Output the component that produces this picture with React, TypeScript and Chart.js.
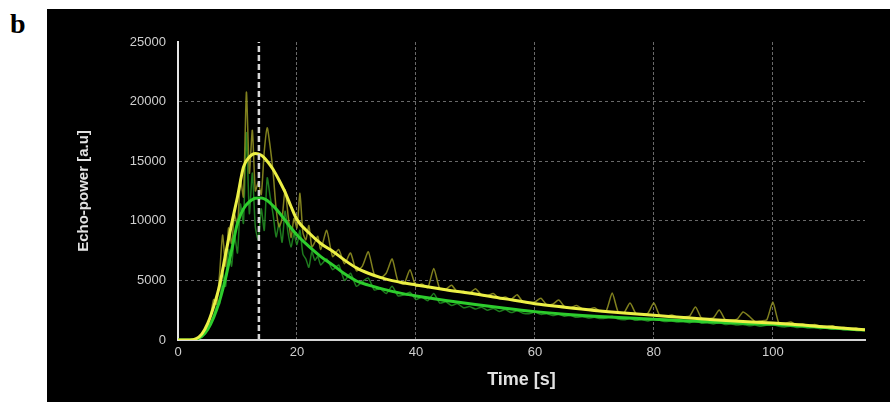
import React, { useEffect, useRef } from 'react';
import { Chart, registerables } from 'chart.js';

Chart.register(...registerables);

// ---- data ----
const rawTime = [
  0, 1, 2, 3, 4, 5,
  5.5, 6, 6.5, 7, 7.5, 8, 8.5, 9, 9.5, 10, 10.5, 11, 11.5, 12, 12.5, 13, 13.5, 14, 14.5, 15,
  15.5, 16, 16.5, 17, 17.5, 18, 18.5, 19, 19.5, 20, 20.5, 21, 21.5, 22, 22.5, 23, 23.5, 24,
  25, 26, 27, 28, 29, 30, 31, 32, 33, 34, 35, 36, 37, 38, 39, 40, 41, 42, 43, 44, 45,
  46, 47, 48, 49, 50, 51, 52, 53, 54, 55, 56, 57, 58, 59, 60, 61, 62, 63, 64, 65,
  66, 67, 68, 69, 70, 71, 72, 73, 74, 75, 76, 77, 78, 79, 80, 81, 82, 83, 84, 85,
  86, 87, 88, 89, 90, 91, 92, 93, 94, 95, 96, 97, 98, 99, 100, 101, 102, 103, 104, 105,
  106, 107, 108, 109, 110, 111, 112, 113, 114, 115,
];

const rawYellow = [
  0, 0, 0, 80, 450, 1300,
  2100, 3400, 3000, 5600, 8800, 6200, 9400, 8100, 10500, 9600, 13500, 12000, 20800, 14000, 17600, 12500, 13200, 12200, 15800, 17800,
  16200, 14000, 11000, 9500, 10200, 12600, 10500, 8600, 10200, 9400, 12300, 9000, 8400, 9600, 7800, 8200, 8700, 7600,
  9200, 7000, 7600, 6400, 7300, 5800, 6200, 7400, 5500, 5200, 5600, 6800, 4900, 4700, 5900, 4500, 4700, 4400, 6000, 4300, 4250,
  4600, 4000, 4100, 3900, 4300, 3800, 3700, 3900, 3500, 3600, 3400, 3800, 3200, 3150, 3200, 3500, 2950, 3000, 3350, 2800,
  2700, 2900, 2600, 2550, 2700, 2400, 2450, 3940, 2350, 2300, 3100, 2200, 2150, 2250, 3100, 2050, 2000, 2100, 1900, 1950,
  2000, 2770, 1850, 1800, 1850, 2520, 1700, 1650, 1750, 2350, 2000, 1550, 1600, 1700, 3190, 1450, 1400, 1500, 1300, 1350,
  1200, 1300, 1150, 1100, 1200, 1000, 1050, 950, 1000, 850,
];

const rawGreen = [
  0, 0, 0, 40, 250, 800,
  1300, 2000, 2800, 3000, 5700, 4500, 7600, 6200, 8800, 7300, 11400, 9800, 17400, 10600, 14000, 9500, 8400, 11000, 9200, 13600,
  12000, 10500, 8650, 9800, 8200, 10800, 9000, 7800, 8900, 8000, 9200, 7200, 6800, 6100, 7400, 6700, 7000, 6300,
  6800, 5900, 6300, 5000, 5600, 4500, 4900, 5200, 4200, 4300, 3900, 4500, 3700, 3800, 4000, 3400, 3600, 3300, 3900, 3100, 3200,
  2900, 3050, 2700, 2800, 2600, 2750, 2500, 2650, 2400, 2550, 2300, 2450, 2250, 2200, 2350, 2150, 2200, 2050, 2150, 2000,
  2050, 1900, 1950, 1850, 1900, 1800, 1850, 2000, 1750, 1700, 1800, 1650, 1700, 1600, 1750, 1650, 1550, 1600, 1500, 1550,
  1450, 1600, 1400, 1450, 1350, 1450, 1300, 1350, 1250, 1300, 1200, 1250, 1150, 1250, 1300, 1150, 1100, 1150, 1050, 1100,
  1000, 1050, 950, 1000, 900, 950, 850, 900, 800, 820,
];

const fitTime = [
  0, 1, 2, 3, 4, 5, 6, 7, 8, 9, 10, 11, 12, 13, 14, 15, 16, 17, 18, 19, 20,
  22, 24, 26, 28, 30, 32, 34, 36, 38, 40,
  45, 50, 55, 60, 65, 70, 75, 80, 85, 90, 95, 100, 105, 110, 115.5,
];

const fitYellow = [
  0, 0, 0, 100, 500, 1400, 2800, 4600, 7200, 9700, 12000, 14500, 15350, 15650, 15500, 15000, 14300, 13400, 12400, 11200, 10100,
  9000, 8100, 7450, 6700, 6050, 5600, 5250, 4980, 4780, 4620,
  4220, 3860, 3450, 3050, 2750, 2480, 2260, 2080, 1880, 1700, 1550, 1420, 1250, 1060, 860,
];

const fitGreen = [
  0, 0, 0, 60, 300, 900, 1900, 3300, 5200, 7500, 9800, 11000, 11600, 11900, 11920, 11700, 11250, 10700, 10050, 9400, 8800,
  7850, 7000, 6300, 5550, 4950, 4600, 4330, 4080, 3870, 3700,
  3320, 2980, 2660, 2380, 2160, 1990, 1860, 1750, 1620, 1500, 1400, 1320, 1180, 1000, 830,
];

const markerTime = 13.6;
const xTickValues = [0, 20, 40, 60, 80, 100];
const yTickValues = [0, 5000, 10000, 15000, 20000, 25000];
const xMin = 0;
const xMax = 115.5;
const yMin = 0;
const yMax = 25000;
const xTitle = 'Time [s]';
const yTitle = 'Echo-power [a.u]';
const panelLabel = 'b';

const FONT = '"Liberation Sans", Arial, Helvetica, sans-serif';

export default function App() {
  const ref = useRef<HTMLCanvasElement>(null);

  useEffect(() => {
    const canvas = ref.current;
    if (!canvas) return;
    const toXY = (xs: number[], ys: number[]) => xs.map((x, i) => ({ x, y: ys[i] }));
    const gridColor = 'rgba(140,140,140,0.75)';

    const chart = new Chart(canvas, {
      type: 'line',
      data: {
        datasets: [
          {
            label: 'marker',
            data: [{ x: markerTime, y: yMin }, { x: markerTime, y: yMax }],
            borderColor: '#d8d8d8',
            borderWidth: 2.5,
            borderDash: [6, 3],
            pointRadius: 0,
            order: 0,
          },
          {
            label: 'fit 1',
            data: toXY(fitTime, fitYellow),
            borderColor: 'rgb(236,240,70)',
            borderWidth: 3,
            cubicInterpolationMode: 'monotone',
            pointRadius: 0,
            order: 1,
          },
          {
            label: 'fit 2',
            data: toXY(fitTime, fitGreen),
            borderColor: 'rgb(45,205,45)',
            borderWidth: 3,
            cubicInterpolationMode: 'monotone',
            pointRadius: 0,
            order: 2,
          },
          {
            label: 'raw 1',
            data: toXY(rawTime, rawYellow),
            borderColor: 'rgba(150,150,35,0.85)',
            borderWidth: 1.5,
            tension: 0.2,
            pointRadius: 0,
            order: 3,
          },
          {
            label: 'raw 2',
            data: toXY(rawTime, rawGreen),
            borderColor: 'rgba(35,145,35,0.85)',
            borderWidth: 1.5,
            tension: 0.2,
            pointRadius: 0,
            order: 4,
          },
        ],
      },
      options: {
        animation: false,
        responsive: false,
        devicePixelRatio: 1,
        layout: { padding: { left: 0, right: 25, top: 33, bottom: 0 } },
        plugins: {
          legend: { display: false },
          tooltip: { enabled: false },
        },
        scales: {
          x: {
            type: 'linear',
            min: xMin,
            max: xMax,
            afterBuildTicks: (s: any) => {
              s.ticks = xTickValues.map((v) => ({ value: v }));
            },
            afterFit: (s: any) => {
              s.height = 62;
            },
            ticks: {
              color: '#cfcfcf',
              font: { family: FONT, size: 13 },
              padding: 5,
              maxRotation: 0,
              callback: (v: any) => String(v),
            },
            grid: {
              drawTicks: false,
              lineWidth: 1,
              color: (ctx: any) => (ctx.tick && ctx.tick.value === xMin ? 'rgba(0,0,0,0)' : gridColor),
            },
            border: { display: true, color: '#d4d4d4', width: 2, dash: [3, 2] },
            title: {
              display: true,
              text: xTitle,
              color: '#e2e2e2',
              font: { family: FONT, size: 18, weight: 'bold' },
              padding: { top: 0, bottom: 11 },
            },
          },
          y: {
            type: 'linear',
            min: yMin,
            max: yMax,
            afterBuildTicks: (s: any) => {
              s.ticks = yTickValues.map((v) => ({ value: v }));
            },
            afterFit: (s: any) => {
              s.width = 131;
            },
            ticks: {
              color: '#cfcfcf',
              font: { family: FONT, size: 13 },
              padding: 12,
              callback: (v: any) => String(v),
            },
            grid: {
              drawTicks: false,
              lineWidth: 1,
              color: (ctx: any) =>
                ctx.tick && (ctx.tick.value === yMin || ctx.tick.value === yMax) ? 'rgba(0,0,0,0)' : gridColor,
            },
            border: { display: true, color: '#e6e6e6', width: 2, dash: [3, 3] },
            title: {
              display: true,
              text: yTitle,
              color: '#e2e2e2',
              font: { family: FONT, size: 15, weight: 'bold' },
              padding: { top: 28, bottom: 0 },
            },
          },
        },
      },
    } as any);

    return () => chart.destroy();
  }, []);

  return (
    <div
      style={{
        position: 'absolute',
        left: 0,
        top: 0,
        width: 896,
        height: 402,
        background: '#ffffff',
        overflow: 'hidden',
      }}
    >
      <div
        style={{
          position: 'absolute',
          left: 10,
          top: 10,
          fontFamily: '"Liberation Serif", "Times New Roman", serif',
          fontWeight: 'bold',
          fontSize: 28,
          lineHeight: '28px',
          color: '#000',
        }}
      >
        {panelLabel}
      </div>
      <div
        style={{
          position: 'absolute',
          left: 47,
          top: 9,
          width: 843,
          height: 393,
          background: '#000000',
        }}
      >
        <canvas ref={ref} width={843} height={393} style={{ display: 'block', width: 843, height: 393 }} />
      </div>
    </div>
  );
}
